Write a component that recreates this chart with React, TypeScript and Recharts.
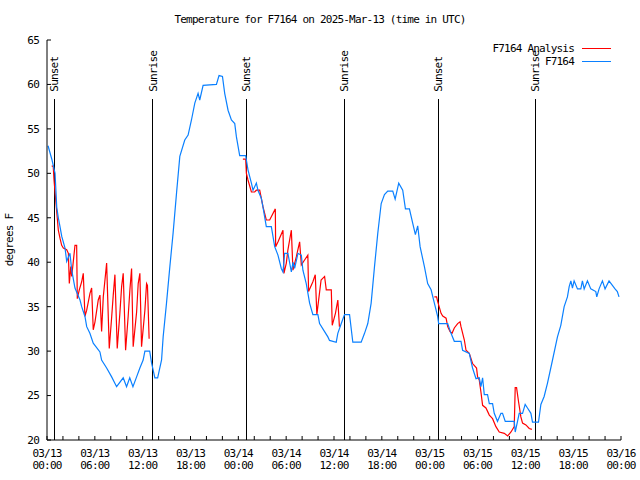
import React from 'react';
import { Legend, Line, LineChart, ReferenceLine, XAxis, YAxis } from 'recharts';

const FONT = '"DejaVu Sans Mono", "Liberation Mono", monospace';
const RED = '#ff0000';
const BLUE = '#0a80ff';

// hours since 03/13 00:00 UTC
const stationHours = [
  0.13, 0.63, 1.01, 1.22, 1.42, 1.63, 1.85, 2.26, 2.47, 2.88, 3.1, 3.51, 4.14, 4.35, 4.76, 4.98, 5.38, 5.8,
  6.64, 6.85, 7.48, 8.11, 8.73, 9.56, 9.98, 10.38, 10.78, 11.24, 11.65, 12.06, 12.28, 12.88, 13.11, 13.31,
  13.53, 13.88, 14.37, 14.57, 14.99, 15.41, 15.82, 16.25, 16.66, 17.28, 17.7, 18.12, 18.54, 18.95, 19.16,
  19.58, 21.25, 21.58, 22.01, 22.29, 22.71, 23.13, 23.55, 23.76, 24.17, 24.92, 25.21, 25.64, 25.84, 26.26,
  26.46, 26.88, 27.08, 27.3, 27.51, 28.14, 28.56, 28.97, 29.39, 29.6, 29.81, 30.22, 30.65, 30.85, 31.06,
  31.48, 31.9, 32.1, 32.52, 32.94, 33.35, 33.98, 34.19, 34.82, 35.23, 35.44, 36.28, 36.48, 36.91, 37.32,
  37.95, 38.36, 39.41, 39.83, 40.24, 40.66, 41.08, 41.49, 41.92, 42.33, 42.74, 43.37, 43.67, 44.12, 44.62,
  44.96, 45.46, 45.87, 46.21, 46.5, 46.8, 47.34, 47.75, 48.18, 48.59, 49.0, 49.13, 50.26, 50.68, 51.09,
  51.93, 52.13, 52.97, 53.38, 53.81, 54.22, 54.43, 54.64, 54.85, 55.26, 55.48, 55.89, 56.1, 56.51, 56.94,
  57.14, 57.48, 58.61, 58.73, 59.02, 59.23, 59.65, 59.98, 60.27, 60.7, 60.9, 61.65, 61.95, 62.36, 62.78,
  63.41, 64.03, 64.45, 64.87, 65.28, 65.5, 65.71, 65.91, 66.12, 66.54, 66.96, 67.16, 67.38, 67.79, 68.21,
  68.84, 68.96, 69.25, 69.67, 70.0, 70.5, 70.92, 71.25, 71.54, 71.75,
];
const stationTemps = [
  53.1, 51.5, 50, 46.2, 45, 44, 42.9, 41.6, 40.1, 41, 39.1, 37.1, 35.75, 35, 33.9, 32.75, 32, 30.9,
  29.9, 29, 28.1, 27.1, 26, 27, 26, 27, 26, 27.1, 28.1, 29, 30, 30, 28.7, 27.9,
  27, 27, 29, 31.6, 35.4, 39.5, 43.3, 47.8, 51.9, 53.75, 54.3, 56, 57.9, 59, 58.25,
  59.9, 60, 61, 60.9, 59, 57.1, 56, 55.6, 54.1, 52, 52, 50.4, 48.9, 48.1, 48.9,
  48.1, 47.2, 46.25, 45.1, 44, 44, 41.75, 40.8, 39.3, 38.9, 41, 41, 38.9, 40, 39.3,
  41, 40.8, 39.1, 37.6, 35.4, 34.1, 34.1, 33.1, 32.2, 31.6, 31.2, 31, 32, 33.1, 34.1,
  34.1, 31, 31, 32, 33.1, 35.4, 39.5, 43.25, 46.6, 47.6, 48, 48, 47.1, 48.9, 48.1,
  46, 46, 44.4, 43.1, 44.1, 41.75, 39.5, 37.6, 36.9, 35.4, 33.9, 33.1, 33.1, 32, 31.1,
  31.1, 30.1, 29.75, 28.1, 26.9, 27, 26, 27, 25.1, 25.1, 24.1, 24.1, 23, 22.1, 23,
  23, 22.1, 22.1, 20.9, 22.1, 23, 23, 24, 23.6, 23, 22, 22, 24, 24.9, 26.4,
  29, 31.6, 32.9, 35, 36.1, 37.25, 37.9, 37.1, 37.9, 37, 37, 37.9, 37, 37.9, 37,
  36.7, 36.1, 37, 37.9, 37, 37.9, 37.4, 37, 36.7, 36.1,
];

// analysis runs: three overnight pieces, null marks the gaps
const analysisHours = [
  0.59, 0.78, 0.88, 1.13, 1.42, 1.63, 1.84, 2.05, 2.47, 2.68, 2.8, 2.98, 3.1, 3.3, 3.51, 3.72, 3.8, 4.05,
  4.35, 4.55, 4.76, 4.98, 5.39, 5.6, 5.8, 6.02, 6.43, 6.64, 6.85, 7.06, 7.27, 7.48, 7.81, 8.1, 8.31, 8.52,
  8.81, 9.14, 9.36, 9.56, 9.86, 10.18, 10.4, 10.61, 10.81, 11.24, 11.44, 11.65, 11.86, 12.28, 12.49, 12.6,
  12.81, 18,
  24.57, 24.92, 25.01, 25.21, 25.64, 26.05, 26.26, 26.68, 27.09, 27.51, 27.93, 28.64, 28.68, 28.98, 29.6,
  29.72, 30.02, 30.22, 30.65, 30.85, 31.27, 31.69, 31.9, 32.31, 32.72, 32.81, 33.35, 33.65, 33.85, 34.38,
  34.82, 35.03, 35.66, 35.78, 36.18, 36.48, 36.68, 42,
  48.59, 48.87, 49.0, 49.43, 49.64, 50.06, 50.26, 50.56, 50.81, 51.09, 51.51, 51.81, 51.93, 52.35, 52.56,
  52.97, 53.38, 53.88, 54.01, 54.22, 54.43, 54.64, 55.06, 55.48, 55.89, 56.31, 56.73, 57.36, 57.78, 58.2,
  58.61, 58.73, 58.9, 59.15, 59.44, 59.65, 60.07, 60.49, 60.82,
];
const analysisTemps = [
  50.8, 50.8, 49.25, 46.6, 43.6, 42.7, 41.9, 41.6, 41.4, 41, 37.6, 39.5, 38.4, 40.1, 41.9, 41.9, 35.9, 36.9,
  37.8, 38.75, 33.9, 34.6, 36.5, 37.1, 32.4, 33.3, 35.75, 36.3, 32.2, 36.1, 38, 39.9, 30.3, 33.7, 36.3, 38.6,
  30.3, 34.25, 37.25, 38.75, 30.1, 33.9, 36.9, 39.3, 30.5, 34.4, 37.6, 38.75, 30.5, 34.6, 37.6, 37.4,
  31.4, null,
  51.6, 51.6, 50, 49.25, 47.9, 47.9, 48.1, 48.1, 46.25, 44.75, 44.75, 46, 41.75, 42.3, 43.6,
  38.75, 39.9, 41.4, 43.6, 39.1, 40.6, 42.3, 39.7, 40.25, 40.8, 36.7, 37.8, 38.6, 34.1, 38,
  38.4, 36.9, 36.9, 32.9, 34.25, 35.75, 32.75, null,
  36.1, 36.1, 35.6, 34.25, 33.95, 33.7, 32.75, 32.2, 32, 32.6, 33.1, 33.3, 32.75, 31.25, 30.1,
  29.75, 28.6, 28.1, 27.1, 26.75, 25.4, 23.9, 23.6, 22.8, 22.4, 21.5, 20.9, 20.75, 20.45, 20.9,
  21.5, 25.9, 25.9, 24.3, 22.6, 21.9, 21.7, 21.3, 21.2,
];

const sunHours = [0.92, 13.26, 24.97, 37.3, 49.1, 61.27];
const sunNames = ['Sunset', 'Sunrise', 'Sunset', 'Sunrise', 'Sunset', 'Sunrise'];
const SUN_LINE_TOP = 58.4;

const xTicks = Array.from({ length: 37 }, (_, i) => i * 2);
const yTicks = [20, 25, 30, 35, 40, 45, 50, 55, 60, 65];
const dayLabels = ['03/13', '03/13', '03/13', '03/13', '03/14', '03/14', '03/14', '03/14', '03/15', '03/15', '03/15', '03/15', '03/16'];
const timeLabels = ['00:00', '06:00', '12:00', '18:00', '00:00', '06:00', '12:00', '18:00', '00:00', '06:00', '12:00', '18:00', '00:00'];

const stationData = stationHours.map((h, i) => ({ h, t: stationTemps[i] }));
const analysisData = analysisHours.map((h, i) => ({ h, t: analysisTemps[i] }));

const legendItems = [
  { name: 'F7164 Analysis', color: RED },
  { name: 'F7164', color: BLUE },
];

const textStyle = { fontFamily: FONT, fontSize: 11, letterSpacing: -0.8, fill: '#000' };

const TimeTick = (props: any) => {
  const { x, y, payload } = props;
  if (payload.value % 6 !== 0) return null;
  const i = payload.value / 6;
  return (
    <g>
      <text x={x} y={y + 17} textAnchor="middle" style={textStyle}>{dayLabels[i]}</text>
      <text x={x} y={y + 29} textAnchor="middle" style={textStyle}>{timeLabels[i]}</text>
    </g>
  );
};

const sunLabel = (name: string) => (props: any) => {
  const { viewBox } = props;
  const x = viewBox.x + 4;
  const y = viewBox.y - 7;
  return (
    <text x={x} y={y} transform={`rotate(-90 ${x} ${y})`} textAnchor="start" style={textStyle}>
      {name}
    </text>
  );
};

const YTitle = (props: any) => {
  const { viewBox } = props;
  const x = 13;
  const y = viewBox.y + viewBox.height / 2;
  return (
    <text x={x} y={y} transform={`rotate(-90 ${x} ${y})`} textAnchor="middle" style={textStyle}>
      degrees F
    </text>
  );
};

const renderLegend = () => (
  <div style={{ fontFamily: FONT, fontSize: 11, letterSpacing: -0.8, color: '#000' }}>
    {legendItems.map((it) => (
      <div key={it.name} style={{ display: 'flex', alignItems: 'center', justifyContent: 'flex-end', height: 13 }}>
        <span>{it.name}</span>
        <span style={{ display: 'inline-block', width: 29, borderTop: `1px solid ${it.color}`, marginLeft: 8 }} />
      </div>
    ))}
  </div>
);

export default function App() {
  return (
    <div style={{ position: 'absolute', left: 0, top: 0, width: 640, height: 480, background: '#fff' }}>
      <LineChart width={640} height={480} margin={{ top: 40, right: 19, bottom: 0, left: 0 }}>
        <text x={320} y={23} textAnchor="middle" style={textStyle}>
          Temperature for F7164 on 2025-Mar-13 (time in UTC)
        </text>
        <XAxis
          dataKey="h"
          type="number"
          domain={[0, 72]}
          ticks={xTicks}
          interval={0}
          height={40}
          tickSize={-4}
          tickMargin={4}
          stroke="#000"
          tick={<TimeTick />}
        />
        <XAxis
          xAxisId="top"
          orientation="top"
          type="number"
          domain={[0, 72]}
          ticks={xTicks}
          interval={0}
          height={0}
          tickSize={-4}
          stroke="#000"
          tick={false}
        />
        <YAxis
          type="number"
          domain={[20, 65]}
          ticks={yTicks}
          interval={0}
          width={47}
          tickSize={-4}
          tickMargin={12}
          stroke="#000"
          tick={textStyle}
          label={<YTitle />}
        />
        <YAxis
          yAxisId="right"
          orientation="right"
          type="number"
          domain={[20, 65]}
          ticks={yTicks}
          interval={0}
          width={0}
          tickSize={-4}
          stroke="#000"
          tick={false}
        />
        {sunHours.map((h, i) => (
          <ReferenceLine
            key={i}
            segment={[{ x: h, y: SUN_LINE_TOP }, { x: h, y: 20 }]}
            stroke="#000"
            strokeWidth={1}
            shapeRendering="crispEdges"
            label={sunLabel(sunNames[i])}
          />
        ))}
        <Line
          data={analysisData}
          dataKey="t"
          type="linear"
          stroke={RED}
          strokeWidth={1.2}
          dot={false}
          connectNulls={false}
          isAnimationActive={false}
        />
        <Line
          data={stationData}
          dataKey="t"
          type="linear"
          stroke={BLUE}
          strokeWidth={1.2}
          dot={false}
          isAnimationActive={false}
        />
        <Legend
          layout="vertical"
          align="center"
          verticalAlign="middle"
          content={renderLegend}
          wrapperStyle={{ left: 459, top: 42, width: 152, height: 26 }}
        />
      </LineChart>
    </div>
  );
}
